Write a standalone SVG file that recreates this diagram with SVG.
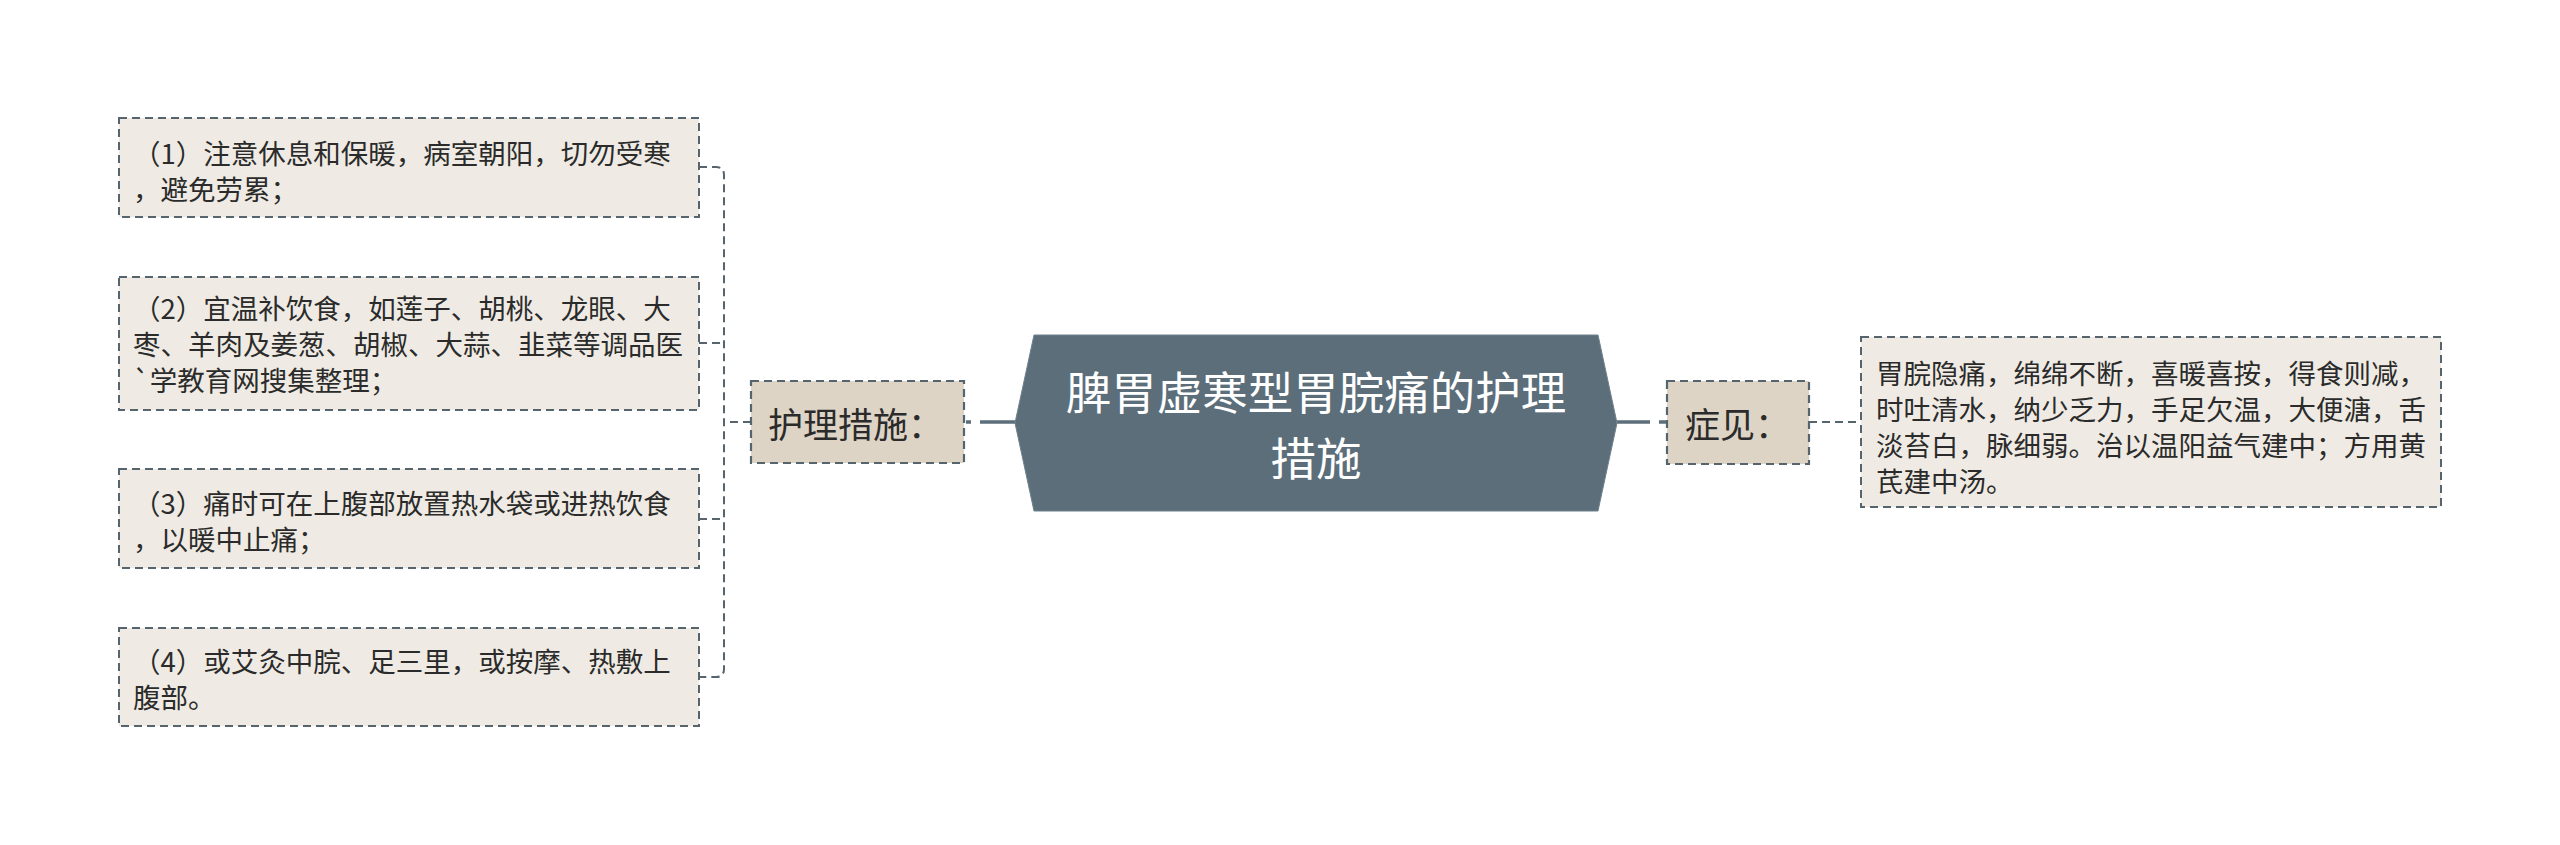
<svg xmlns="http://www.w3.org/2000/svg" width="2560" height="845" viewBox="0 0 2560 845">
<style>
text { font-family: "Noto Sans CJK SC", "Noto Sans", sans-serif; fill: #2b2b2b; dominant-baseline: central; }
.leaf rect { fill: #efebe4; stroke: #56646d; stroke-width: 2; stroke-dasharray: 8 5; }
.sub rect { fill: #ddd4c5; stroke: #56646d; stroke-width: 2.2; stroke-dasharray: 8 5; }
.leaf text { font-size: 27.5px; }
.sub text { font-size: 35px; }
.center text { font-size: 45.5px; fill: #ffffff; text-anchor: middle; }
.dash { fill: none; stroke: #56646d; stroke-width: 2; stroke-dasharray: 8 5; }
.solid { fill: none; stroke: #5b6e7a; stroke-width: 3.5; }
</style>
<rect x="0" y="0" width="2560" height="845" fill="#ffffff"/>
<g id="connectors">
  <path class="dash" d="M751,422 H724"/>
  <path class="dash" d="M699,167 H716 Q724,167 724,175 V669 Q724,677 716,677 H699"/>
  <path class="dash" d="M699,343 H724"/>
  <path class="dash" d="M699,519 H724"/>
  <path class="solid" d="M980,422 H1016"/>
  <path class="solid" d="M966,422 H971" stroke-width="3"/>
  <path class="solid" d="M1617,422 H1650"/>
  <path class="solid" d="M1659,422 H1667" stroke-width="3"/>
  <path class="dash" d="M1809,422 H1861" stroke-width="2.5"/>
</g>
<g id="center" class="center">
  <polygon points="1034,335 1598,335 1617,423 1598,511 1034,511 1015,423" fill="#5b6e7a" stroke="#6f808b" stroke-width="1"/>
  <text x="1316" y="390">脾胃虚寒型胃脘痛的护理</text>
  <text x="1316" y="456">措施</text>
</g>
<g id="sub-left" class="sub">
  <rect x="751" y="381" width="213" height="82"/>
  <text x="768" y="422">护理措施：</text>
</g>
<g id="sub-right" class="sub">
  <rect x="1667" y="381" width="142" height="83"/>
  <text x="1685" y="422">症见：</text>
</g>
<g id="leaf1" class="leaf">
  <rect x="119" y="118" width="580" height="99"/>
  <text x="133" y="152">（1）注意休息和保暖，病室朝阳，切勿受寒</text>
  <text x="133" y="188">，避免劳累；</text>
</g>
<g id="leaf2" class="leaf">
  <rect x="119" y="277" width="580" height="133"/>
  <text x="133" y="307">（2）宜温补饮食，如莲子、胡桃、龙眼、大</text>
  <text x="133" y="343">枣、羊肉及姜葱、胡椒、大蒜、韭菜等调品医</text>
  <text x="133" y="379">`学教育网搜集整理；</text>
</g>
<g id="leaf3" class="leaf">
  <rect x="119" y="469" width="580" height="99"/>
  <text x="133" y="502">（3）痛时可在上腹部放置热水袋或进热饮食</text>
  <text x="133" y="538">，以暖中止痛；</text>
</g>
<g id="leaf4" class="leaf">
  <rect x="119" y="628" width="580" height="98"/>
  <text x="133" y="660">（4）或艾灸中脘、足三里，或按摩、热敷上</text>
  <text x="133" y="696">腹部。</text>
</g>
<g id="leaf5" class="leaf">
  <rect x="1861" y="337" width="580" height="170"/>
  <text x="1876" y="371.5">胃脘隐痛，绵绵不断，喜暖喜按，得食则减，</text>
  <text x="1876" y="407.5">时吐清水，纳少乏力，手足欠温，大便溏，舌</text>
  <text x="1876" y="443.5">淡苔白，脉细弱。治以温阳益气建中；方用黄</text>
  <text x="1876" y="479.5">芪建中汤。</text>
</g>
</svg>
